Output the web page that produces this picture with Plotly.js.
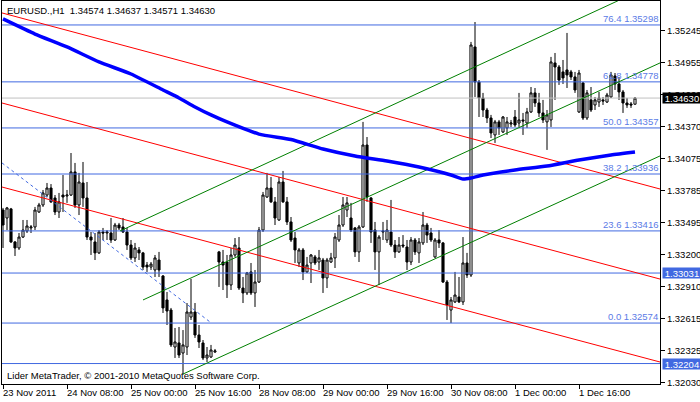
<!DOCTYPE html>
<html>
<head>
<meta charset="utf-8">
<script src="https://cdn.plot.ly/plotly-3.0.1.min.js"></script>
<style>
html,body{margin:0;padding:0;background:#fff;}
#chart{width:700px;height:402px;}
</style>
</head>
<body>
<div id="chart"></div>
<script>
// ---- data (EURUSD H1, bar index 0 = 23 Nov 2011 16:00) ----
const open = [1.33607,1.33534,1.33617,1.33315,1.33260,1.33360,1.33415,1.33443,1.33452,1.33589,1.33653,1.33744,1.33808,1.33717,1.33589,1.33744,1.33735,1.33744,1.33955,1.33653,1.33854,1.33717,1.33360,1.33315,1.33215,1.33406,1.33397,1.33397,1.33333,1.33470,1.33452,1.33406,1.33287,1.33169,1.33242,1.33215,1.33104,1.33086,1.33059,1.33150,1.33004,1.32785,1.32693,1.32355,1.32392,1.32300,1.32355,1.32629,1.32675,1.32465,1.32392,1.32255,1.32264,1.32310,1.33224,1.33132,1.33132,1.32922,1.33196,1.33260,1.32894,1.32849,1.33041,1.32849,1.32949,1.33424,1.33726,1.33808,1.33681,1.33516,1.33863,1.33681,1.33498,1.33351,1.33123,1.33242,1.33041,1.33123,1.33178,1.33132,1.33150,1.32986,1.33132,1.33169,1.33333,1.33470,1.33607,1.33534,1.33443,1.33224,1.33452,1.34201,1.33717,1.33424,1.33224,1.33406,1.33333,1.33406,1.33287,1.33224,1.33287,1.33269,1.33132,1.33333,1.33215,1.33306,1.33470,1.33397,1.33178,1.33333,1.33306,1.32949,1.32693,1.32767,1.32812,1.32767,1.33123,1.33013,1.35097,1.34777,1.34631,1.34521,1.34448,1.34293,1.34412,1.34320,1.34357,1.34393,1.34457,1.34402,1.34430,1.34402,1.34503,1.34677,1.34585,1.34494,1.34412,1.34430,1.34951,1.34914,1.34869,1.34887,1.34869,1.34823,1.34503,1.34768,1.34448,1.34613,1.34567,1.34594,1.34613,1.34594,1.34640,1.34832,1.34759,1.34686,1.34585,1.34576,1.34574];
const high = [1.33626,1.33635,1.33626,1.33324,1.33397,1.33516,1.33516,1.33470,1.33635,1.33672,1.33790,1.33854,1.33844,1.33744,1.33763,1.33927,1.33790,1.34128,1.34037,1.33946,1.34046,1.33863,1.33406,1.33397,1.33424,1.33443,1.33424,1.33534,1.33489,1.33489,1.33534,1.33443,1.33333,1.33306,1.33269,1.33224,1.33132,1.33132,1.33196,1.33224,1.33013,1.32858,1.32712,1.32529,1.32538,1.32510,1.32757,1.32977,1.32757,1.32556,1.32419,1.32355,1.32374,1.32337,1.33233,1.33242,1.33196,1.33260,1.33351,1.33360,1.32995,1.33041,1.33123,1.33059,1.33452,1.33772,1.33946,1.33909,1.33726,1.33909,1.33964,1.33726,1.33543,1.33406,1.33260,1.33260,1.33178,1.33205,1.33196,1.33242,1.33169,1.33169,1.33215,1.33397,1.33561,1.33726,1.33726,1.33672,1.33452,1.33470,1.34412,1.34274,1.33726,1.33498,1.33378,1.33498,1.33516,1.33699,1.33333,1.33360,1.33378,1.33333,1.33360,1.33351,1.33351,1.33589,1.33489,1.33443,1.33351,1.33424,1.33315,1.32967,1.32812,1.33041,1.32995,1.33360,1.33215,1.35143,1.35325,1.34795,1.34677,1.34540,1.34476,1.34430,1.34430,1.34466,1.34457,1.34430,1.34521,1.34677,1.34494,1.34540,1.34731,1.34722,1.34677,1.34613,1.34521,1.35006,1.35042,1.34932,1.34978,1.35225,1.34887,1.34869,1.34887,1.34777,1.34704,1.34731,1.34640,1.34686,1.34640,1.34677,1.34869,1.34859,1.34823,1.34704,1.34631,1.34594,1.34637];
const low = [1.33260,1.33424,1.33306,1.33187,1.33242,1.33351,1.33397,1.33397,1.33424,1.33580,1.33635,1.33726,1.33672,1.33561,1.33534,1.33589,1.33672,1.33735,1.33626,1.33561,1.33635,1.33333,1.33196,1.33150,1.33205,1.33333,1.33333,1.33306,1.33324,1.33424,1.33397,1.33242,1.33150,1.33132,1.33150,1.33059,1.33041,1.33059,1.32995,1.32995,1.32666,1.32556,1.32355,1.32255,1.32255,1.32108,1.32282,1.32602,1.32438,1.32346,1.32236,1.32218,1.32255,1.32300,1.32904,1.32876,1.32803,1.32876,1.33178,1.32876,1.32757,1.32830,1.32830,1.32721,1.32940,1.33406,1.33717,1.33672,1.33470,1.33507,1.33672,1.33470,1.33315,1.33123,1.33086,1.32967,1.33032,1.32940,1.33104,1.33059,1.32849,1.32894,1.33123,1.33077,1.33315,1.33452,1.33543,1.33406,1.33178,1.33132,1.33443,1.33681,1.33306,1.33059,1.32922,1.33333,1.33306,1.33269,1.33169,1.33215,1.33260,1.33059,1.33104,1.33196,1.33123,1.33287,1.33306,1.33315,1.33169,1.33260,1.32940,1.32602,1.32574,1.32757,1.32757,1.32739,1.32986,1.32995,1.34640,1.34457,1.34457,1.34402,1.34265,1.34220,1.34293,1.34311,1.34293,1.34366,1.34366,1.34366,1.34293,1.34357,1.34494,1.34549,1.34457,1.34402,1.34156,1.34366,1.34613,1.34750,1.34759,1.34722,1.34795,1.34677,1.34494,1.34430,1.34430,1.34503,1.34521,1.34549,1.34567,1.34585,1.34631,1.34704,1.34613,1.34494,1.34540,1.34540,1.34571];
const close = [1.33470,1.33626,1.33315,1.33260,1.33360,1.33424,1.33461,1.33452,1.33607,1.33653,1.33763,1.33808,1.33681,1.33589,1.33681,1.33726,1.33744,1.33955,1.33653,1.33863,1.33717,1.33360,1.33333,1.33215,1.33406,1.33397,1.33406,1.33333,1.33470,1.33443,1.33406,1.33287,1.33169,1.33260,1.33215,1.33086,1.33086,1.33113,1.33169,1.33059,1.32712,1.32684,1.32374,1.32401,1.32282,1.32374,1.32675,1.32675,1.32465,1.32401,1.32255,1.32282,1.32328,1.32319,1.33132,1.33104,1.32922,1.33196,1.33287,1.32894,1.32849,1.33032,1.32849,1.32949,1.33424,1.33744,1.33808,1.33681,1.33534,1.33863,1.33681,1.33498,1.33333,1.33242,1.33242,1.33041,1.33104,1.33196,1.33123,1.33169,1.32986,1.33150,1.33169,1.33360,1.33470,1.33653,1.33672,1.33424,1.33224,1.33452,1.34201,1.33726,1.33406,1.33224,1.33360,1.33415,1.33424,1.33287,1.33224,1.33287,1.33278,1.33132,1.33333,1.33224,1.33315,1.33470,1.33378,1.33333,1.33333,1.33306,1.32949,1.32739,1.32785,1.32830,1.32767,1.33123,1.33013,1.35115,1.34777,1.34631,1.34521,1.34448,1.34311,1.34412,1.34357,1.34457,1.34412,1.34402,1.34384,1.34430,1.34421,1.34503,1.34677,1.34585,1.34494,1.34430,1.34476,1.34960,1.34914,1.34795,1.34814,1.34841,1.34823,1.34704,1.34859,1.34448,1.34677,1.34521,1.34613,1.34631,1.34604,1.34658,1.34841,1.34759,1.34686,1.34585,1.34567,1.34567,1.34630];

// moving average (read at selected bars)
const maBars = [0,8,16,24,32,40,44,48,52,56,64,72,80,88,96,104,112,115,117,120,128,136,144,152,158];
const maValues = [1.35353,1.35215,1.35097,1.34960,1.34850,1.34704,1.34631,1.34549,1.34476,1.34412,1.34301,1.34251,1.34165,1.34101,1.34055,1.34000,1.33927,1.33890,1.33899,1.33927,1.33973,1.34009,1.34064,1.34110,1.34137];

// x axis ticks
const tickBars = [0,16,32,48,64,80,96,112,128,144];
const tickLabels = ['23 Nov 2011','24 Nov 08:00','25 Nov 00:00','25 Nov 16:00','28 Nov 08:00','29 Nov 00:00','29 Nov 16:00','30 Nov 08:00','1 Dec 00:00','1 Dec 16:00'];
// y axis ticks
const priceTicks = [1.35245,1.34955,1.34660,1.34370,1.34075,1.33785,1.33495,1.33200,1.32910,1.32615,1.32325,1.32030];

// Fibonacci levels
const fibPct = ['76.4','61.8','50.0','38.2','23.6','0.0'];
const fibLevels = [1.35298,1.34778,1.34357,1.33936,1.33416,1.32574];
// other horizontal lines
const hLevels = [1.33031,1.32204];
const bidPrice = 1.34630;

// trend lines: [x0,x1] in bars, [y0,y1] in price
const redX = [-0.25,164.25];
const redUpper = [1.35408,1.33799];
const redMiddle = [1.34585,1.32976];
const redLower = [1.33817,1.32218];
const green1X = [29.25,164.25], green1Y = [1.33415,1.35697];
const green2X = [35,164.25],    green2Y = [1.32785,1.34951];
const green3X = [45,164.25],    green3Y = [1.32108,1.34101];
const dotX = [-0.25,51.75],     dotY = [1.34037,1.32584];

const title = 'EURUSD.,H1\u00a0\u00a01.34574 1.34637 1.34571 1.34630';
const footer = 'Lider MetaTrader, \u00a9 2001-2010 MetaQuotes Software Corp.';

// ---- build ----
const FONT = 'Liberation Sans, Arial, sans-serif';
const BLUE = '#4169e1';
const xs = open.map((_, i) => i);
const full = [-0.25, 164.25];
const traces = [];

traces.push({
  type: 'candlestick', x: xs, open: open, high: high, low: low, close: close,
  increasing: {line: {color: '#000', width: 1}, fillcolor: '#fff'},
  decreasing: {line: {color: '#000', width: 1}, fillcolor: '#000'},
  whiskerwidth: 0, hoverinfo: 'skip', showlegend: false
});

function line(x, y, color, width, dash) {
  traces.push({type: 'scatter', mode: 'lines', x: x, y: y,
    line: {color: color, width: width, dash: dash || 'solid'},
    hoverinfo: 'skip', showlegend: false});
}
line(full, [bidPrice, bidPrice], '#c0c0c0', 1);
fibLevels.forEach(v => line(full, [v, v], BLUE, 1));
hLevels.forEach(v => line(full, [v, v], BLUE, 1));
line(redX, redUpper, '#ff0000', 1);
line(redX, redMiddle, '#ff0000', 1);
line(redX, redLower, '#ff0000', 1);
line(green1X, green1Y, '#008000', 1);
line(green2X, green2Y, '#008000', 1);
line(green3X, green3Y, '#008000', 1);
line(dotX, dotY, BLUE, 1, 'dot');
traces.push({type: 'scatter', mode: 'lines', x: maBars, y: maValues,
  line: {color: '#0000ff', width: 3.5, shape: 'spline', smoothing: 0.5},
  hoverinfo: 'skip', showlegend: false});

const annotations = [];
fibLevels.forEach((v, i) => annotations.push({
  xref: 'paper', x: 1, xanchor: 'right', xshift: -1,
  yref: 'y', y: v, yanchor: 'bottom', yshift: 0,
  text: fibPct[i] + ' ' + v.toFixed(5), showarrow: false, borderpad: 0,
  font: {family: FONT, size: 9.5, color: '#5b7be6'}
}));
function priceBox(v, bg) {
  annotations.push({
    xref: 'paper', x: 1, xanchor: 'left', xshift: 2,
    yref: 'y', y: v, yanchor: 'middle',
    text: v.toFixed(5), showarrow: false, bgcolor: bg, borderpad: 0,
    width: 38, height: 10, align: 'center',
    font: {family: FONT, size: 9.5, color: '#fff'}
  });
}
priceBox(bidPrice, '#000');
hLevels.forEach(v => priceBox(v, BLUE));
// x-axis time labels, left-aligned at their tick like the terminal does
tickBars.forEach((b, i) => annotations.push({
  xref: 'x', x: b, xanchor: 'left', xshift: -1,
  yref: 'paper', y: 0, yanchor: 'top', yshift: -2,
  text: tickLabels[i], showarrow: false, borderpad: 0,
  font: {family: FONT, size: 9.5, color: '#000'}
}));
annotations.push({xref: 'paper', x: 0, xanchor: 'left', xshift: 4,
  yref: 'paper', y: 1, yanchor: 'top', yshift: -3, text: title,
  showarrow: false, borderpad: 0, font: {family: FONT, size: 9.5, color: '#000'}});
annotations.push({xref: 'paper', x: 0, xanchor: 'left', xshift: 4,
  yref: 'paper', y: 0, yanchor: 'bottom', yshift: 2, text: footer,
  showarrow: false, borderpad: 0, font: {family: FONT, size: 9.5, color: '#000'}});

const layout = {
  width: 700, height: 402,
  margin: {l: 2, r: 40, t: 1, b: 18, pad: 0},
  paper_bgcolor: '#fff', plot_bgcolor: '#fff',
  showlegend: false, boxgap: 0.25,
  font: {family: FONT, size: 9.5, color: '#000'},
  xaxis: {
    type: 'linear', range: full, autorange: false, fixedrange: true,
    rangeslider: {visible: false},
    tickmode: 'array', tickvals: tickBars, showticklabels: false,
    ticks: 'outside', ticklen: 4, tickcolor: '#000', tickwidth: 1,
    showline: true, linecolor: '#000', linewidth: 1, mirror: true,
    showgrid: false, zeroline: false, automargin: false
  },
  yaxis: {
    side: 'right', range: [1.32017, 1.35517], autorange: false, fixedrange: true,
    tickmode: 'array', tickvals: priceTicks, tickformat: '.5f',
    ticks: 'outside', ticklen: 4, tickcolor: '#000', tickwidth: 1,
    showline: true, linecolor: '#000', linewidth: 1, mirror: true,
    showgrid: false, zeroline: false, automargin: false,
    tickfont: {family: FONT, size: 9.5, color: '#000'}
  },
  annotations: annotations
};

Plotly.newPlot('chart', traces, layout, {staticPlot: true, displayModeBar: false});
</script>
</body>
</html>
